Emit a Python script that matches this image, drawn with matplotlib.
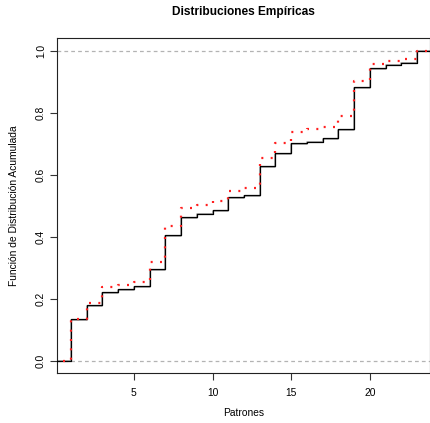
import matplotlib
matplotlib.use("Agg")
import matplotlib.pyplot as plt

# Patterns 1..23 and the cumulative levels of each empirical distribution
patrones = list(range(1, 24))

fda_observada = [0.134, 0.180, 0.221, 0.230, 0.242, 0.295, 0.406, 0.4645,
                 0.473, 0.486, 0.527, 0.5345, 0.628, 0.669, 0.701, 0.7065,
                 0.719, 0.748, 0.882, 0.943, 0.953, 0.960, 1.0]

fda_replica = [0.131, 0.177, 0.218, 0.227, 0.239, 0.292, 0.403, 0.461,
               0.473, 0.484, 0.524, 0.531, 0.625, 0.666, 0.698, 0.7045,
               0.716, 0.745, 0.879, 0.940, 0.953, 0.960, 1.0]

fda_simulada = [0.134, 0.185, 0.238, 0.244, 0.253, 0.317, 0.4355, 0.494,
                0.503, 0.514, 0.548, 0.556, 0.655, 0.703, 0.739, 0.7475,
                0.755, 0.789, 0.901, 0.957, 0.967, 0.973, 1.0]

x_min, x_max = 0.11, 23.79


def escalera(niveles):
    xs = [x_min] + patrones + [x_max]
    ys = [0.0] + niveles + [niveles[-1]]
    return xs, ys


plt.rcParams["font.family"] = ["Liberation Sans", "DejaVu Sans"]

fig = plt.figure(figsize=(4.30, 4.23), dpi=100)
ax = fig.add_axes([57 / 430, 50 / 423, 372.5 / 430, 334.7 / 423])

ax.axhline(0, color="#b3b3b3", lw=0.9, ls=(0, (3, 2.5)), zorder=1)
ax.axhline(1, color="#b3b3b3", lw=0.9, ls=(0, (3, 2.5)), zorder=1)

xs, ys = escalera(fda_replica)
ax.step(xs, ys, where="post", color="#999999", lw=1.1, zorder=2)
xs, ys = escalera(fda_observada)
ax.step(xs, ys, where="post", color="black", lw=0.9, zorder=3)
xs, ys = escalera(fda_simulada)
ax.step(xs, ys, where="post", color="#ff2020", lw=1.6,
        ls=(1.5, (0.9, 3.3)), zorder=4)

ax.set_xlim(x_min, x_max)
ax.set_ylim(-0.04, 1.04)
ax.set_xticks([5, 10, 15, 20])
ax.set_yticks([0.0, 0.2, 0.4, 0.6, 0.8, 1.0])
ax.set_yticklabels(["0.0", "0.2", "0.4", "0.6", "0.8", "1.0"],
                   rotation=90, va="center")
ax.tick_params(direction="out", length=5, width=0.8, labelsize=7.4,
               color="#333333", pad=3)
ax.tick_params(axis="x", pad=6)
for s in ax.spines.values():
    s.set_linewidth(0.8)
    s.set_color("#222222")

ax.set_xlabel("Patrones", fontsize=7.4, labelpad=7)
ax.set_ylabel("Función de Distribución Acumulada", fontsize=7.4, labelpad=12)
fig.text(243 / 430, 1 - 12 / 423, "Distribuciones Empíricas",
         ha="center", va="center", fontsize=8.6, fontweight="bold")

fig.savefig("out.png", dpi=100)
